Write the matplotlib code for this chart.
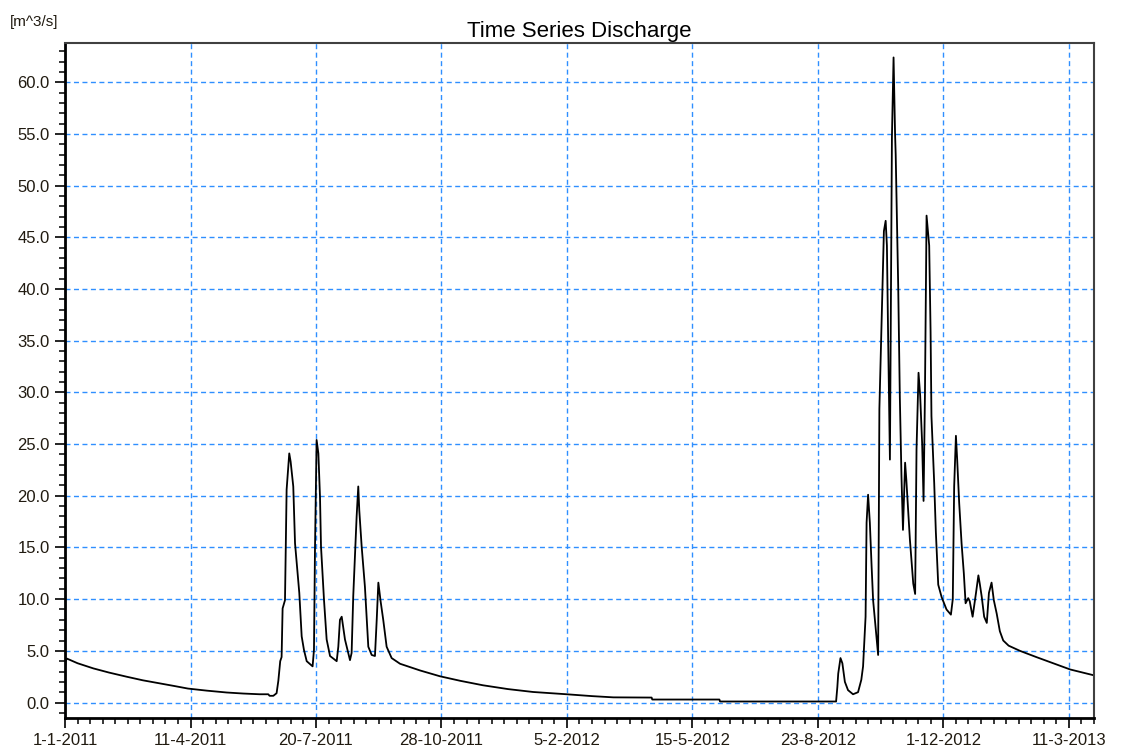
import pandas as pd
import matplotlib.pyplot as plt
import matplotlib.dates as mdates
from matplotlib.ticker import FixedLocator, FuncFormatter, MultipleLocator

plt.rcParams['font.family'] = ['Liberation Sans', 'DejaVu Sans']

# ---------------------------------------------------------
# data: days since 1-1-2011 and discharge [m^3/s]
# ---------------------------------------------------------
start = pd.Timestamp("2011-01-01")

day_2011 = [0, 0.5, 1.5, 10, 22.6, 35, 49, 62, 75.7, 87, 98, 113, 128.8, 142, 155, 162,
            163, 166, 168.6, 170, 171.5, 172.6, 173.4, 175.3, 176.6, 178.7, 179.8, 181.9,
            183.3, 186.7, 188.6, 190.4, 192.6, 197.3, 198.4, 199.2, 200.5, 201.9, 203.2,
            204, 206.4, 208.5, 211.2, 216.5, 217.8, 219.1, 220.5, 223.1, 227.1, 228.4,
            229.7, 232.4, 233.7, 234.5, 236.4, 239, 241.7, 244.4, 247, 248.4, 249.7,
            251.5, 253.6, 256.3, 260.3, 267, 283, 298.8, 315, 333, 353, 373, 399.7, 420,
            437, 467.5, 468, 521.5, 522]
q_2011 = [3.4, 4.0, 4.25, 3.8, 3.3, 2.9, 2.5, 2.15, 1.85, 1.6, 1.35, 1.15, 0.97, 0.87, 0.8, 0.8,
          0.65, 0.65, 0.9, 2.1, 4.0, 4.4, 9.1, 9.9, 20.6, 24.1, 23.3, 20.9,
          15.4, 10.6, 6.4, 5.1, 4.0, 3.5, 5.1, 14.8, 25.4, 24.1, 19.9,
          15.1, 9.9, 6.1, 4.5, 4.0, 5.4, 8.0, 8.3, 6.1, 4.1, 4.8,
          10.3, 18.0, 20.9, 18.6, 15.1, 11.2, 5.4, 4.6, 4.5, 8.0, 11.6,
          9.8, 8.0, 5.4, 4.3, 3.75, 3.1, 2.54, 2.1, 1.67, 1.3, 1.02, 0.8, 0.62,
          0.5, 0.48, 0.29, 0.29, 0.1]

day_2012 = [614.5, 615.5, 616.2, 618, 619.5, 621.5, 624, 628, 632, 634.6, 636, 638, 638.8,
            640, 641.4, 642.8, 644, 646, 648, 649, 650.7, 652.6, 654, 655, 656, 657.4,
            659, 660.3, 661.5, 662, 664, 665.3, 666.6, 667.8, 669.5, 670.5, 673.3, 676,
            677.5, 678.6, 680.2, 681.5, 683.1, 684.2, 685.3, 686.6, 688.7, 689.8, 690.5,
            692.7, 694, 695.9, 698.6, 702.5, 706, 707.5, 708.6, 710, 711, 712.6, 714.5,
            716.3, 717.7, 719.8, 721, 723.3, 726, 727.9, 729, 730.6, 732.5, 734.6, 736.3,
            738.4, 740.2, 742.5, 745, 747.7, 752, 761, 774, 787.5, 801, 811, 821]
q_2012 = [0.1, 1.5, 2.8, 4.3, 3.8, 2.0, 1.2, 0.8, 1.0, 2.2, 3.5, 8.3, 17.4,
          20.1, 17.4, 13.2, 9.9, 7.3, 4.6, 28.4, 36.7, 45.6, 46.6, 44.2, 35.1, 23.5,
          54.7, 62.4, 55.0, 53.0, 40.3, 29.5, 21.9, 16.7, 23.2, 21.5, 15.8, 11.5,
          10.5, 24.5, 31.9, 29.7, 25.0, 19.5, 29.7, 47.1, 44.2, 35.9, 27.7,
          21.2, 16.5, 11.4, 10.2, 9.0, 8.5, 10.0, 20.9, 25.8, 23.5, 19.3, 15.4,
          12.5, 9.6, 10.1, 9.8, 8.3, 10.6, 12.3, 11.5, 10.2, 8.3, 7.7, 10.6,
          11.6, 9.9, 8.6, 6.9, 6.0, 5.5, 5.0, 4.4, 3.8, 3.2, 2.9, 2.6]

days = day_2011 + day_2012
discharge = q_2011 + q_2012
dates = start + pd.to_timedelta(days, unit="D")

# ---------------------------------------------------------
# plot
# ---------------------------------------------------------
fig = plt.figure(figsize=(11.25, 7.54), dpi=100)
ax = fig.add_axes([0.0578, 0.0477, 0.9146, 0.8953])

ax.plot(dates, discharge, color="black", linewidth=1.3)

ax.set_xlim(start, start + pd.Timedelta(days=820))
ax.set_ylim(-1.5, 63.8)

major_x = [mdates.date2num(start + pd.Timedelta(days=100 * k)) for k in range(9)]
minor_x = [mdates.date2num(start + pd.Timedelta(days=10 * k)) for k in range(83)]
ax.xaxis.set_major_locator(FixedLocator(major_x))
ax.xaxis.set_minor_locator(FixedLocator(minor_x))
ax.xaxis.set_major_formatter(FuncFormatter(
    lambda v, pos: "{d.day}-{d.month}-{d.year}".format(d=mdates.num2date(v))))

ax.yaxis.set_major_locator(MultipleLocator(5))
ax.yaxis.set_minor_locator(MultipleLocator(1))
ax.yaxis.set_major_formatter(FuncFormatter(lambda v, pos: f"{v:.1f}"))

ax.grid(True, which="major", color="#2f8fff", linestyle=(0, (3.6, 2.5)), linewidth=1.0)

ax.tick_params(which="major", direction="out", length=7, width=1.2,
               labelsize=12, colors="black", labelcolor="#201a10", pad=4)
ax.tick_params(which="minor", direction="out", length=4, width=1.1, colors="black")

for side in ["left", "bottom"]:
    ax.spines[side].set_linewidth(2)
    ax.spines[side].set_color("black")
for side in ["top", "right"]:
    ax.spines[side].set_linewidth(1.5)
    ax.spines[side].set_color("#404040")

ax.set_title("Time Series Discharge", fontsize=16, pad=4)
fig.text(10 / 1125, 1 - 22 / 754, "[m^3/s]", fontsize=11, ha="left", va="center", color="#201a10")

fig.savefig("out.png", dpi=100)
